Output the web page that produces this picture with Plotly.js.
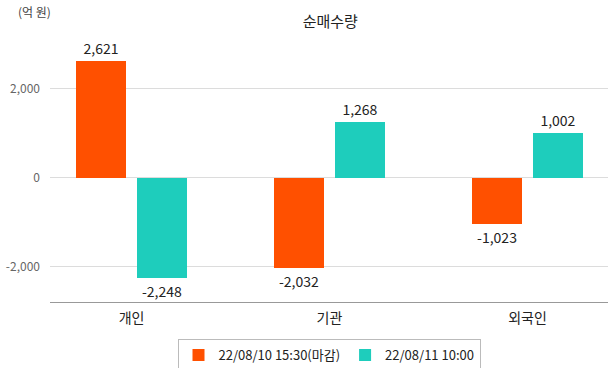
<!DOCTYPE html>
<html><head><meta charset="utf-8">
<script src="https://cdn.plot.ly/plotly-3.0.1.min.js"></script>
<style>body{margin:0;background:#fff}#c{width:615px;height:368px}</style>
</head><body><div id="c"></div>
<script>
const categories = ['개인', '기관', '외국인'];
const seriesNames = ['22/08/10 15:30(마감)', '22/08/11 10:00'];
const close0810 = [2621, -2032, -1023];
const open0811 = [-2248, 1268, 1002];
const yTickVals = [-2000, 0, 2000];
const yTickText = ['-2,000', '0', '2,000'];

const fmt = v => v.toLocaleString('en-US');
const font = '"Noto Sans CJK KR", "Noto Sans", sans-serif';

const traces = [
  {type:'bar', name:seriesNames[0], x:categories, y:close0810, marker:{color:'#FF5000'},
   width:0.2525, offset:-0.2803, text:close0810.map(fmt), textposition:'outside',
   textfont:{size:14,color:'#222'}, cliponaxis:false, hoverinfo:'none'},
  {type:'bar', name:seriesNames[1], x:categories, y:open0811, marker:{color:'#1ECDBC'},
   width:0.2525, offset:0.0278, text:open0811.map(fmt), textposition:'outside',
   textfont:{size:14,color:'#222'}, cliponaxis:false, hoverinfo:'none'}
];

const layout = {
  width:615, height:368,
  margin:{l:50, r:7, t:50, b:66, autoexpand:false},
  paper_bgcolor:'#fff', plot_bgcolor:'#fff',
  font:{family:font, color:'#222'},
  title:{text:'순매수량', font:{size:15,color:'#222'}, x:0.537, xanchor:'center', y:0.94, yanchor:'middle'},
  showlegend:true,
  legend:{orientation:'h', x:0.5, xanchor:'center', y:-0.147, yanchor:'top',
    bordercolor:'#bbb', borderwidth:1, font:{size:13,color:'#222'}, tracegroupgap:0},
  xaxis:{type:'category', range:[-0.4116, 2.4066], showgrid:false, zeroline:false,
    showline:true, linecolor:'#999', linewidth:1, ticks:'', ticklabelstandoff:3,
    tickfont:{size:14,color:'#222'}, fixedrange:true},
  yaxis:{range:[-2787, 2876], tickvals:yTickVals, ticktext:yTickText, showgrid:true, gridcolor:'#dcdcdc',
    zeroline:false, showline:false, ticks:'', ticklabelstandoff:9, tickfont:{size:12,color:'#666'}, fixedrange:true},
  annotations:[{text:'(억 원)', xref:'paper', yref:'paper', x:-0.061, y:1.151, xanchor:'left', yanchor:'middle',
    showarrow:false, font:{size:12,color:'#444'}}],
  bargap:0
};
Plotly.newPlot('c', traces, layout, {displayModeBar:false, staticPlot:true});
</script></body></html>
